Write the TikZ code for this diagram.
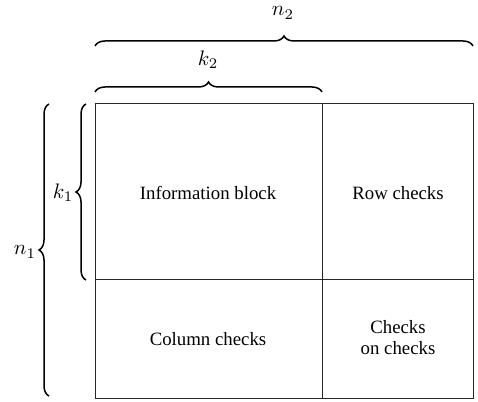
\documentclass[tikz,border=0pt]{standalone}
\usepackage{fontspec}
\usepackage{graphicx}
\setmainfont{Liberation Serif}
\usetikzlibrary{decorations.pathreplacing}
\newcommand{\biglbl}[1]{\scalebox{2.1}{$#1$}}
\begin{document}
\begin{tikzpicture}[x=1pt,y=1pt,
  bracedraw/.style={decorate,decoration={brace,amplitude=10pt},line width=1.5pt},
  cell/.style={draw=black!85,line width=0.9pt},
  lbl/.style={font=\fontsize{18.8}{21}\selectfont,align=center},
  mlbl/.style={inner sep=1pt}]
\useasboundingbox (0,0) rectangle (478,401);
% cells
\node[cell,minimum width=227pt,minimum height=176pt,anchor=north west,inner sep=0] (info) at (95,298) {};
\node[cell,minimum width=151pt,minimum height=176pt,anchor=north west,inner sep=0] (row) at (322,298) {};
\node[cell,minimum width=227pt,minimum height=119pt,anchor=north west,inner sep=0] (col) at (95,122) {};
\node[cell,minimum width=151pt,minimum height=119pt,anchor=north west,inner sep=0] (coc) at (322,122) {};
\node[lbl] (tinfo) at (208,208) {Information block};
\node[lbl] (trow) at (398,208) {Row checks};
\node[lbl] (tcol) at (208,62) {Column checks};
\node[lbl] (tcoc) at (398,63) {Checks\\on checks};
% braces
\coordinate (n2a) at (95,355);
\coordinate (n2b) at (473,355);
\coordinate (k2a) at (95,309);
\coordinate (k2b) at (322,309);
\coordinate (k1a) at (86,121);
\coordinate (k1b) at (86,297);
\coordinate (n1a) at (49,5);
\coordinate (n1b) at (49,297);
\draw[bracedraw] (n2a) -- (n2b);
\draw[bracedraw] (k2a) -- (k2b);
\draw[bracedraw] (k1a) -- (k1b);
\draw[bracedraw] (n1a) -- (n1b);
\node[mlbl] (ln2) at (283,388) {\biglbl{n_2}};
\node[mlbl] (lk2) at (208,341) {\biglbl{k_2}};
\node[mlbl] (lk1) at (63,208) {\biglbl{k_1}};
\node[mlbl] (ln1) at (25,149) {\biglbl{n_1}};
\end{tikzpicture}
\end{document}
